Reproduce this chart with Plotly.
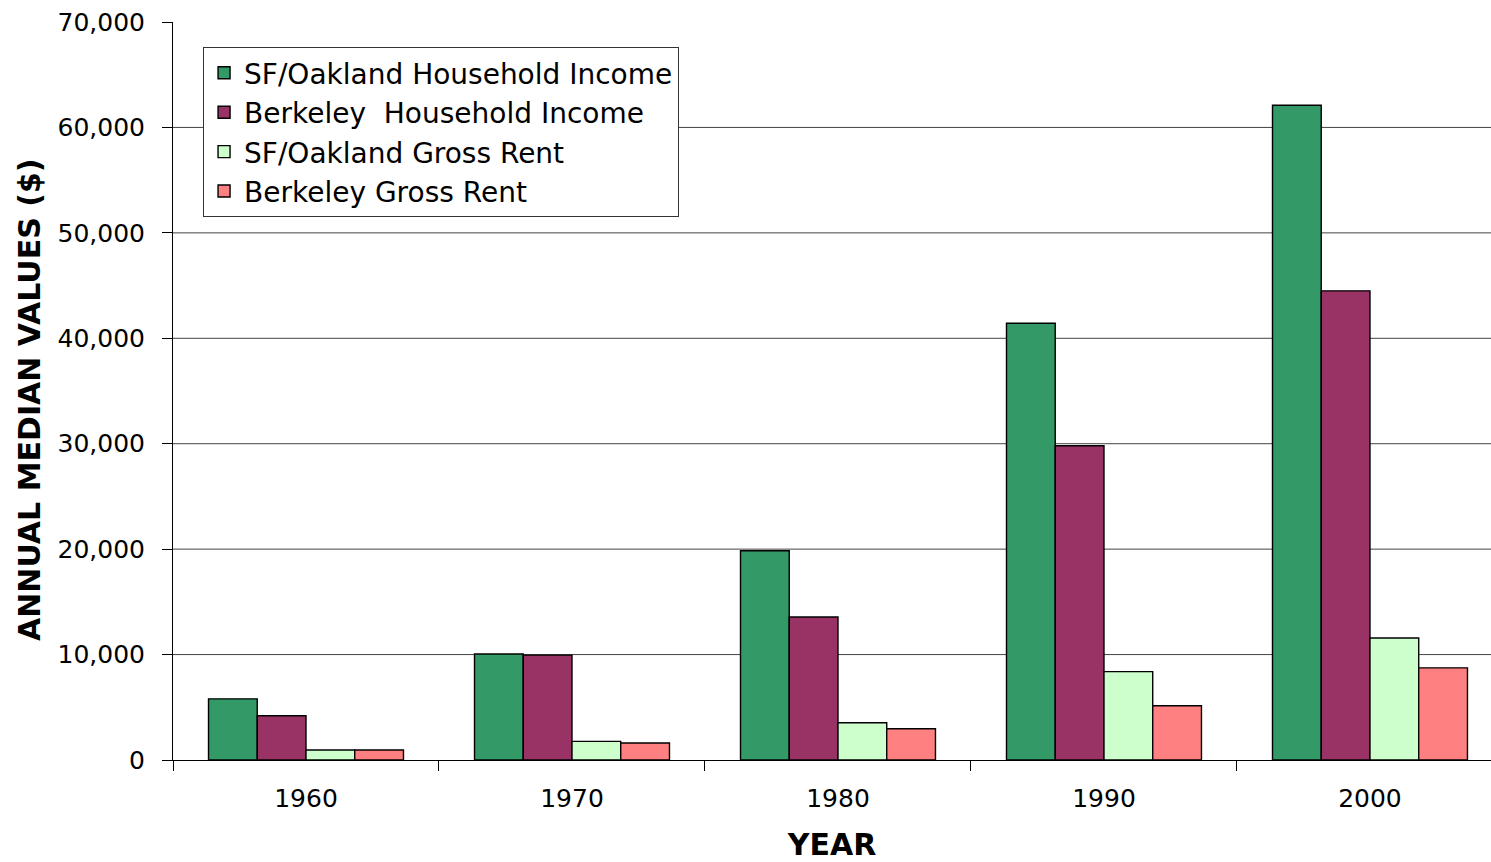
import plotly.graph_objects as go

years = ["1960", "1970", "1980", "1990", "2000"]
sf_income = [5800, 10050, 19850, 41420, 62100]
berk_income = [4200, 9950, 13560, 29810, 44500]
sf_rent = [950, 1770, 3540, 8380, 11570]
berk_rent = [950, 1610, 2970, 5150, 8740]

series = [
    ("SF/Oakland Household Income", sf_income, "#339966"),
    ("Berkeley  Household Income", berk_income, "#993366"),
    ("SF/Oakland Gross Rent", sf_rent, "#CCFFCC"),
    ("Berkeley Gross Rent", berk_rent, "#FF8080"),
]

y_ticks = [0, 10000, 20000, 30000, 40000, 50000, 60000, 70000]
y_tick_text = ["0", "10,000", "20,000", "30,000", "40,000", "50,000", "60,000", "70,000"]

FONT = "DejaVu Sans, Verdana, sans-serif"
W, H = 1491, 862
ML, MR, MT, MB = 173, 0, 22, 102

fig = go.Figure()
for name, vals, color in series:
    fig.add_trace(go.Bar(
        x=years, y=vals, name=name,
        marker=dict(color=color, line=dict(color="#000000", width=1.4)),
    ))

# horizontal gridlines (none at the top of the axis)
for v in y_ticks[1:-1]:
    fig.add_shape(type="line", xref="paper", yref="y", x0=0, x1=1, y0=v, y1=v,
                  line=dict(color="#444444", width=1), layer="below")

plot_w = W - ML - MR
plot_h = H - MT - MB

# vertical axis title
fig.add_annotation(
    text="<b>ANNUAL MEDIAN VALUES ($)</b>", textangle=-90, showarrow=False,
    xref="paper", yref="paper",
    x=(29 - ML) / plot_w, y=(H - MB - 400) / plot_h,
    xanchor="center", yanchor="middle",
    font=dict(size=30, family=FONT, color="#000000"),
)

fig.update_layout(
    width=W, height=H,
    margin=dict(l=ML, r=MR, t=MT, b=MB),
    paper_bgcolor="white", plot_bgcolor="white",
    barmode="group", bargap=0.267, bargroupgap=0,
    font=dict(family=FONT, color="#000000"),
    legend=dict(
        x=0.0228, y=0.966, xanchor="left", yanchor="top",
        bgcolor="white", bordercolor="#333333", borderwidth=1,
        font=dict(size=28, family=FONT, color="#000000"),
        tracegroupgap=0, entrywidth=450,
    ),
    xaxis=dict(
        type="category", range=[-0.5, 4.455],
        showline=True, linecolor="#000000", linewidth=1,
        ticks="outside", ticklen=10, tickcolor="#000000", tickson="boundaries",
        tickfont=dict(size=25, family=FONT), ticklabelstandoff=16,
        showgrid=False,
        title=dict(text="<b>YEAR</b>", font=dict(size=30, family=FONT), standoff=24),
    ),
    yaxis=dict(
        range=[0, 70000],
        tickvals=y_ticks, ticktext=y_tick_text,
        showline=True, linecolor="#000000", linewidth=1,
        ticks="outside", ticklen=10, tickcolor="#000000",
        tickfont=dict(size=25, family=FONT), ticklabelstandoff=12,
        showgrid=False, zeroline=False,
    ),
)

fig.write_html("out.html")
